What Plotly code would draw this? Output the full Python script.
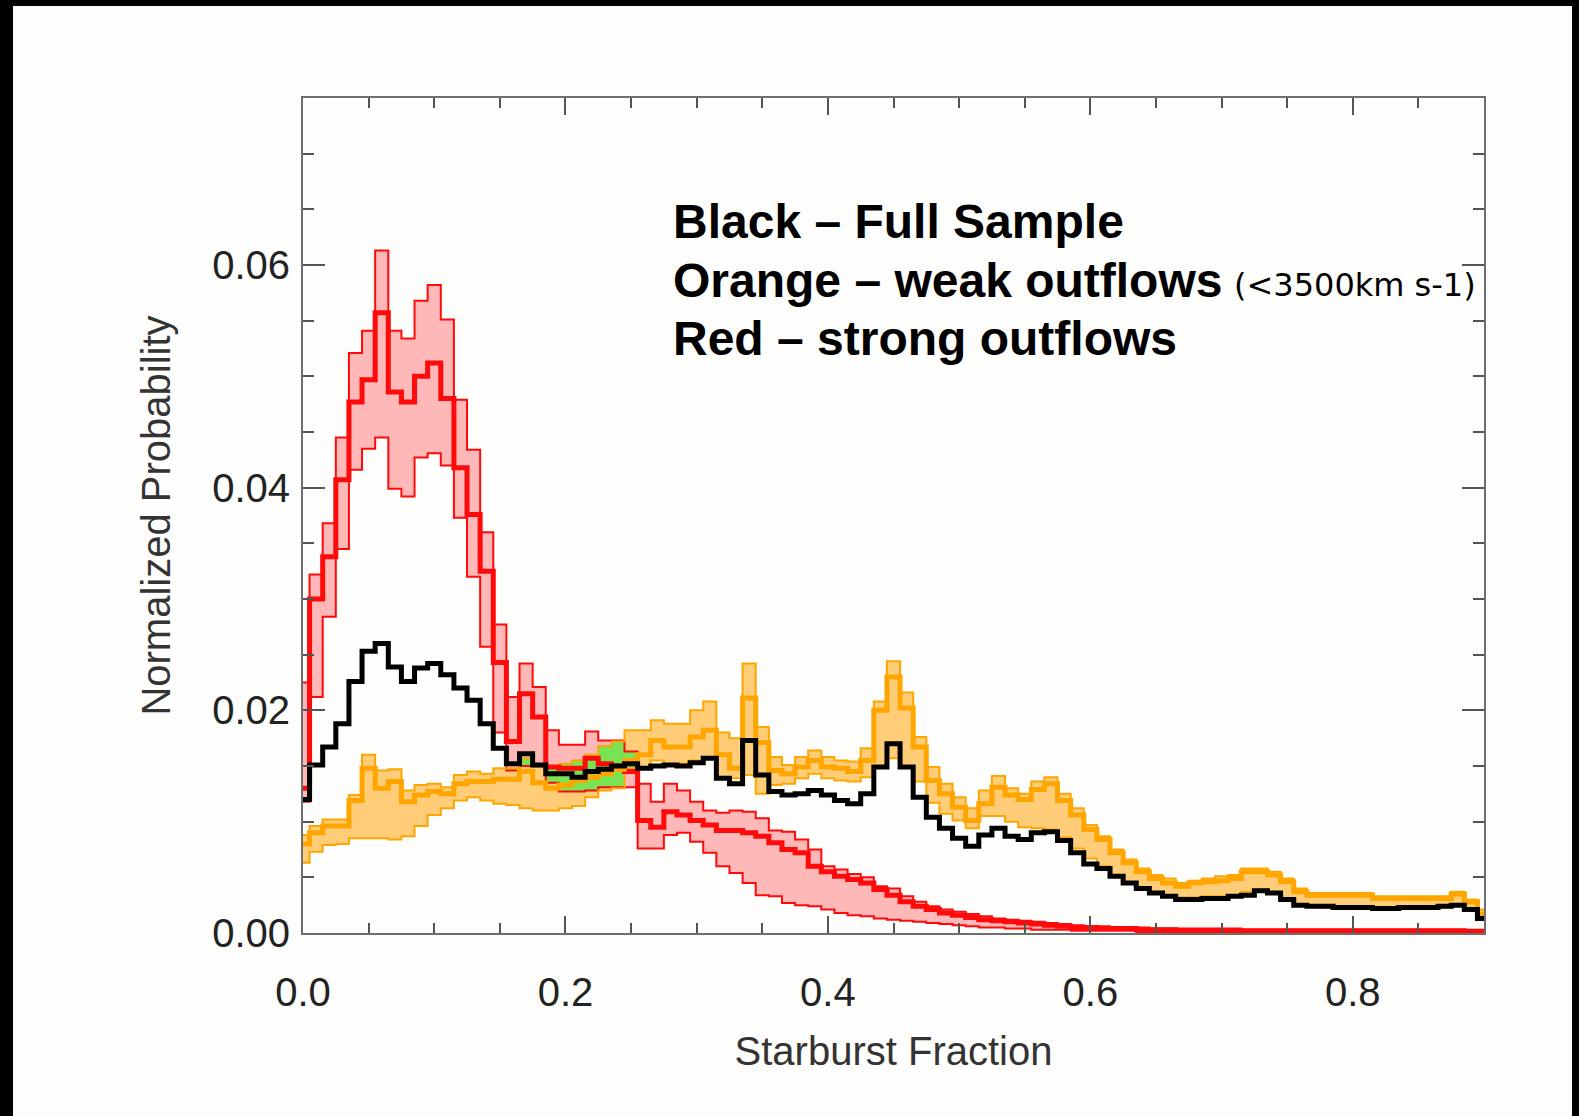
import numpy as np
import plotly.graph_objects as go

# bin centres of the starburst-fraction histogram (0.00 ... 0.90, step 0.01)
x_bins = np.round(np.arange(0, 0.905, 0.01), 2).tolist()

black_full = [
    0.0120, 0.0151, 0.0167, 0.0188, 0.0226, 0.0253, 0.0260, 0.0239, 0.0226, 0.0238,
    0.0242, 0.0232, 0.0220, 0.0209, 0.0188, 0.0166, 0.0152, 0.0161, 0.0151, 0.0143,
    0.0143, 0.0140, 0.0145, 0.0147, 0.0150, 0.0152, 0.0148, 0.0150, 0.0151, 0.0150,
    0.0153, 0.0157, 0.0139, 0.0134, 0.0173, 0.0142, 0.0127, 0.0124, 0.0125, 0.0128,
    0.0124, 0.0119, 0.0116, 0.0125, 0.0149, 0.0170, 0.0149, 0.0122, 0.0104, 0.0094,
    0.0085, 0.0078, 0.0088, 0.0094, 0.0087, 0.0084, 0.0090, 0.0091, 0.0083, 0.0072,
    0.0062, 0.0058, 0.0051, 0.0045, 0.0040, 0.0036, 0.0033, 0.0030, 0.0030, 0.0031,
    0.0031, 0.0033, 0.0034, 0.0038, 0.0036, 0.0030, 0.0025, 0.0024, 0.0024, 0.0023,
    0.0023, 0.0023, 0.0022, 0.0022, 0.0023, 0.0023, 0.0023, 0.0024, 0.0025, 0.0021,
    0.0013]

orange_mid = [
    0.0080, 0.0090, 0.0096, 0.0096, 0.0119, 0.0148, 0.0130, 0.0136, 0.0118, 0.0124,
    0.0127, 0.0125, 0.0134, 0.0136, 0.0136, 0.0138, 0.0138, 0.0145, 0.0135, 0.0130,
    0.0133, 0.0137, 0.0140, 0.0143, 0.0147, 0.0155, 0.0160, 0.0173, 0.0167, 0.0167,
    0.0176, 0.0182, 0.0160, 0.0148, 0.0211, 0.0171, 0.0146, 0.0143, 0.0149, 0.0155,
    0.0149, 0.0148, 0.0145, 0.0155, 0.0200, 0.0230, 0.0202, 0.0167, 0.0137, 0.0125,
    0.0113, 0.0101, 0.0116, 0.0131, 0.0124, 0.0120, 0.0129, 0.0134, 0.0119, 0.0106,
    0.0093, 0.0084, 0.0072, 0.0063, 0.0055, 0.0049, 0.0045, 0.0042, 0.0045, 0.0046,
    0.0047, 0.0049, 0.0055, 0.0055, 0.0052, 0.0046, 0.0037, 0.0034, 0.0034, 0.0034,
    0.0034, 0.0034, 0.0031, 0.0031, 0.0031, 0.0031, 0.0031, 0.0031, 0.0035, 0.0028,
    0.0017]

orange_hi = [
    0.0088, 0.0096, 0.0102, 0.0102, 0.0124, 0.0160, 0.0146, 0.0147, 0.0128, 0.0133,
    0.0134, 0.0131, 0.0142, 0.0145, 0.0143, 0.0148, 0.0148, 0.0157, 0.0149, 0.0150,
    0.0152, 0.0155, 0.0160, 0.0168, 0.0172, 0.0182, 0.0182, 0.0191, 0.0188, 0.0188,
    0.0200, 0.0208, 0.0180, 0.0175, 0.0242, 0.0185, 0.0158, 0.0151, 0.0158, 0.0164,
    0.0158, 0.0155, 0.0154, 0.0166, 0.0208, 0.0244, 0.0216, 0.0176, 0.0149, 0.0134,
    0.0122, 0.0112, 0.0128, 0.0141, 0.0130, 0.0125, 0.0136, 0.0140, 0.0125, 0.0112,
    0.0097, 0.0087, 0.0075, 0.0066, 0.0058, 0.0052, 0.0049, 0.0045, 0.0047, 0.0049,
    0.0051, 0.0052, 0.0058, 0.0058, 0.0055, 0.0049, 0.0040, 0.0036, 0.0036, 0.0036,
    0.0036, 0.0036, 0.0033, 0.0033, 0.0033, 0.0033, 0.0033, 0.0033, 0.0037, 0.0030,
    0.0021]

orange_lo = [
    0.0063, 0.0073, 0.0079, 0.0080, 0.0085, 0.0085, 0.0085, 0.0084, 0.0087, 0.0096,
    0.0106, 0.0112, 0.0119, 0.0122, 0.0119, 0.0116, 0.0115, 0.0112, 0.0110, 0.0110,
    0.0112, 0.0114, 0.0122, 0.0128, 0.0130, 0.0148, 0.0149, 0.0155, 0.0151, 0.0152,
    0.0155, 0.0157, 0.0140, 0.0139, 0.0142, 0.0125, 0.0133, 0.0134, 0.0139, 0.0143,
    0.0139, 0.0137, 0.0136, 0.0140, 0.0149, 0.0157, 0.0149, 0.0136, 0.0117, 0.0107,
    0.0101, 0.0094, 0.0105, 0.0105, 0.0100, 0.0095, 0.0094, 0.0093, 0.0086, 0.0076,
    0.0067, 0.0060, 0.0052, 0.0045, 0.0040, 0.0037, 0.0034, 0.0032, 0.0032, 0.0033,
    0.0033, 0.0034, 0.0037, 0.0039, 0.0036, 0.0030, 0.0025, 0.0024, 0.0023, 0.0023,
    0.0023, 0.0023, 0.0022, 0.0023, 0.0023, 0.0023, 0.0023, 0.0023, 0.0025, 0.0021,
    0.0012]

red_mid = [
    0.0130, 0.0300, 0.0338, 0.0407, 0.0477, 0.0497, 0.0557, 0.0486, 0.0477, 0.0500,
    0.0512, 0.0480, 0.0418, 0.0376, 0.0325, 0.0243, 0.0172, 0.0215, 0.0194, 0.0149,
    0.0148, 0.0148, 0.0157, 0.0152, 0.0150, 0.0145, 0.0101, 0.0095, 0.0109, 0.0106,
    0.0101, 0.0097, 0.0092, 0.0092, 0.0090, 0.0087, 0.0081, 0.0075, 0.0072, 0.0060,
    0.0055, 0.0051, 0.0048, 0.0045, 0.0039, 0.0034, 0.0028, 0.0024, 0.0021, 0.0018,
    0.0016, 0.0014, 0.0012, 0.0011, 0.0010, 0.0009, 0.0008, 0.0007, 0.0006, 0.0005,
    0.0005, 0.0004, 0.0004, 0.0004, 0.0003, 0.0003, 0.0003, 0.0002, 0.0002, 0.0002,
    0.0002, 0.0002, 0.0002, 0.0002, 0.0002, 0.0002, 0.0002, 0.0002, 0.0002, 0.0002,
    0.0002, 0.0002, 0.0002, 0.0002, 0.0002, 0.0002, 0.0002, 0.0002, 0.0002, 0.0001,
    0.0001]

red_hi = [
    0.0225, 0.0322, 0.0368, 0.0445, 0.0521, 0.0541, 0.0613, 0.0541, 0.0534, 0.0568,
    0.0582, 0.0551, 0.0479, 0.0434, 0.0360, 0.0277, 0.0212, 0.0242, 0.0221, 0.0182,
    0.0169, 0.0169, 0.0181, 0.0173, 0.0173, 0.0163, 0.0134, 0.0118, 0.0134, 0.0128,
    0.0118, 0.0110, 0.0108, 0.0110, 0.0109, 0.0103, 0.0092, 0.0091, 0.0084, 0.0075,
    0.0060, 0.0057, 0.0053, 0.0050, 0.0042, 0.0040, 0.0033, 0.0028, 0.0024, 0.0021,
    0.0019, 0.0017, 0.0015, 0.0013, 0.0012, 0.0011, 0.0010, 0.0009, 0.0008, 0.0007,
    0.0006, 0.0006, 0.0005, 0.0005, 0.0005, 0.0004, 0.0004, 0.0004, 0.0004, 0.0004,
    0.0004, 0.0004, 0.0003, 0.0003, 0.0003, 0.0003, 0.0003, 0.0003, 0.0003, 0.0003,
    0.0003, 0.0003, 0.0003, 0.0003, 0.0003, 0.0003, 0.0003, 0.0003, 0.0003, 0.0003,
    0.0003]

red_lo = [
    0.0118, 0.0212, 0.0284, 0.0345, 0.0416, 0.0435, 0.0445, 0.0399, 0.0392, 0.0427,
    0.0431, 0.0420, 0.0373, 0.0320, 0.0257, 0.0180, 0.0146, 0.0150, 0.0150, 0.0135,
    0.0127, 0.0127, 0.0128, 0.0131, 0.0131, 0.0131, 0.0076, 0.0076, 0.0088, 0.0090,
    0.0082, 0.0072, 0.0060, 0.0054, 0.0045, 0.0034, 0.0033, 0.0027, 0.0025, 0.0024,
    0.0021, 0.0018, 0.0016, 0.0015, 0.0013, 0.0012, 0.0011, 0.0010, 0.0009, 0.0008,
    0.0007, 0.0006, 0.0005, 0.0005, 0.0004, 0.0004, 0.0003, 0.0003, 0.0003, 0.0002,
    0.0002, 0.0002, 0.0002, 0.0002, 0.0001, 0.0001, 0.0001, 0.0001, 0.0001, 0.0001,
    0.0001, 0.0001, 0.0001, 0.0001, 0.0001, 0.0001, 0.0001, 0.0001, 0.0001, 0.0001,
    0.0001, 0.0001, 0.0001, 0.0001, 0.0001, 0.0001, 0.0001, 0.0001, 0.0001, 0.0000,
    0.0000]

x_ticks = [0.0, 0.2, 0.4, 0.6, 0.8]
x_ticktext = ["0.0", "0.2", "0.4", "0.6", "0.8"]
y_ticks = [0.00, 0.02, 0.04, 0.06]
y_ticktext = ["0.00", "0.02", "0.04", "0.06"]

label_lines = ["Black \u2013 Full Sample", "Orange \u2013 weak outflows", "Red \u2013 strong outflows"]
label_note = "(&lt;3500km s-1)"

RED = "#ff0a0a"
PINK = "#ffb8b8"
ORANGE = "#ffa500"
ORANGE_FILL = "#ffcc77"
GREEN = "#78e453"
FONT = "Liberation Sans, Arial, Helvetica, sans-serif"

# overlap of the two uncertainty bands (drawn green)
ov_lo = np.maximum(np.array(red_lo), np.array(orange_lo))
ov_hi = np.minimum(np.array(red_hi), np.array(orange_hi))
ov_hi = np.maximum(ov_hi, ov_lo)

fig = go.Figure()

def band(lo, hi, fill):
    fig.add_trace(go.Scatter(x=x_bins, y=lo, mode="lines", line=dict(width=0, shape="hvh"),
                             hoverinfo="skip", showlegend=False))
    fig.add_trace(go.Scatter(x=x_bins, y=hi, mode="lines", line=dict(width=0, shape="hvh"),
                             fill="tonexty", fillcolor=fill, hoverinfo="skip", showlegend=False))

band(red_lo, red_hi, PINK)
band(orange_lo, orange_hi, ORANGE_FILL)
band(ov_lo.tolist(), ov_hi.tolist(), GREEN)

def line(y, color, width):
    fig.add_trace(go.Scatter(x=x_bins, y=y, mode="lines",
                             line=dict(color=color, width=width, shape="hvh"), showlegend=False))

for s in (red_lo, red_hi):
    line(s, RED, 2)
for s in (orange_lo, orange_hi):
    line(s, ORANGE, 2)

line(red_mid, RED, 5)
line(orange_mid, ORANGE, 5)
line(black_full, "#000000", 5)

W, H = 1579, 1116
L, R, T, B = 303, 95, 98, 183
pw, ph = W - L - R, H - T - B

def px(xp):
    return (xp - L) / pw

def py(yp):
    return (H - B - yp) / ph

axis_common = dict(showline=True, linecolor="#6e6e6e", linewidth=2, mirror="ticks",
                   ticks="inside", tickcolor="#555555", tickwidth=1.5,
                   showgrid=False, zeroline=False,
                   tickfont=dict(family=FONT, size=40, color="#222222"))

fig.update_xaxes(range=[0, 0.9], tickvals=x_ticks, ticktext=x_ticktext, ticklen=17,
                 ticklabelstandoff=23,
                 minor=dict(dtick=0.05, tick0=0, ticks="inside", ticklen=10,
                            tickcolor="#555555", tickwidth=1.5),
                 title=dict(text="Starburst Fraction", standoff=24,
                            font=dict(family=FONT, size=40, color="#333333")),
                 **axis_common)
fig.update_yaxes(range=[0, 0.075], tickvals=y_ticks, ticktext=y_ticktext, ticklen=22,
                 ticklabelstandoff=3,
                 minor=dict(dtick=0.005, tick0=0, ticks="inside", ticklen=11,
                            tickcolor="#555555", tickwidth=1.5),
                 title=dict(text="Normalized Probability", standoff=29,
                            font=dict(family=FONT, size=40, color="#333333")),
                 **axis_common)

annotations = []
for text, ymid in zip(label_lines, [221.5, 280.5, 338.0]):
    annotations.append(dict(xref="paper", yref="paper", x=px(671), y=py(ymid),
                            xanchor="left", yanchor="middle", showarrow=False,
                            text="<b>" + text + "</b>",
                            font=dict(family=FONT, size=48, color="#000000")))
annotations.append(dict(xref="paper", yref="paper", x=px(1232), y=py(285),
                        xanchor="left", yanchor="middle", showarrow=False,
                        text=label_note,
                        font=dict(family="DejaVu Sans, sans-serif", size=32, color="#000000")))

shapes = [
    dict(type="rect", xref="paper", yref="paper", x0=px(0), x1=px(13), y0=py(H), y1=py(0),
         fillcolor="#000000", line=dict(width=0), layer="above"),
    dict(type="rect", xref="paper", yref="paper", x0=px(0), x1=px(W), y0=py(6), y1=py(0),
         fillcolor="#000000", line=dict(width=0), layer="above"),
    dict(type="rect", xref="paper", yref="paper", x0=px(1572), x1=px(W), y0=py(H), y1=py(0),
         fillcolor="#000000", line=dict(width=0), layer="above"),
]

fig.update_layout(width=W, height=H, autosize=False,
                  margin=dict(l=L, r=R, t=T, b=B),
                  paper_bgcolor="#fdfdfb", plot_bgcolor="#fdfdfb",
                  showlegend=False, annotations=annotations, shapes=shapes,
                  font=dict(family=FONT))

fig.write_html("out.html")
